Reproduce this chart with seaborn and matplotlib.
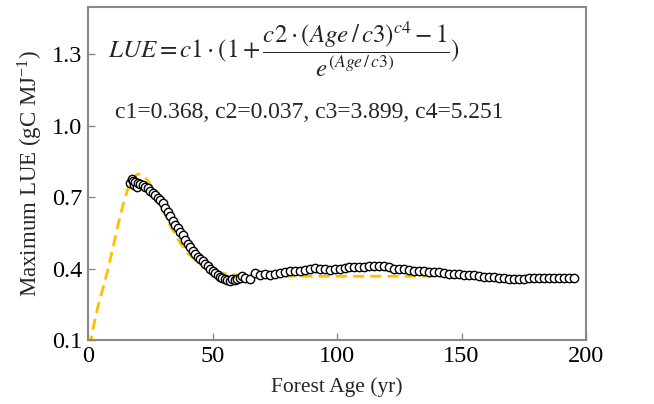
import matplotlib
matplotlib.use("Agg")
import matplotlib.pyplot as plt
import pandas as pd
import seaborn as sns

age = [17, 17.5, 18, 18.5, 19, 19.5, 20, 21, 22, 23, 24, 25, 26, 27, 28, 29, 30,
       31, 32, 33, 34, 35, 36, 37, 38, 39, 40, 41, 42, 43, 44, 45, 46, 47, 48, 49,
       50, 51, 52, 53, 54, 55, 56, 57, 58, 59, 60, 61, 62, 63, 65, 67, 69, 71, 73,
       75, 77, 79, 81, 83, 85, 87, 89, 91, 93, 95, 97, 99, 101, 103, 105, 107, 109,
       111, 113, 115, 117, 119, 121, 123, 125, 127, 129, 131, 133, 135, 137, 139,
       141, 143, 145, 147, 149, 151, 153, 155, 157, 159, 161, 163, 165, 167, 169,
       171, 173, 175, 177, 179, 181, 183, 185, 187, 189, 191, 193, 195]
lue = [0.760, 0.775, 0.770, 0.750, 0.765, 0.745, 0.760, 0.755, 0.750, 0.745, 0.738,
       0.728, 0.718, 0.708, 0.698, 0.688, 0.675, 0.655, 0.640, 0.620, 0.600, 0.585,
       0.570, 0.555, 0.540, 0.520, 0.505, 0.490, 0.475, 0.462, 0.450, 0.440, 0.430,
       0.420, 0.410, 0.400, 0.392, 0.383, 0.373, 0.366, 0.360, 0.357, 0.353, 0.350,
       0.356, 0.352, 0.355, 0.360, 0.368, 0.362, 0.356, 0.383, 0.372, 0.376, 0.374,
       0.378, 0.380, 0.385, 0.388, 0.392, 0.390, 0.395, 0.400, 0.402, 0.400, 0.398,
       0.396, 0.398, 0.400, 0.404, 0.406, 0.405, 0.407, 0.406, 0.410, 0.411, 0.409,
       0.410, 0.405, 0.400, 0.398, 0.397, 0.396, 0.392, 0.389, 0.388, 0.387, 0.385,
       0.384, 0.380, 0.378, 0.377, 0.378, 0.375, 0.374, 0.372, 0.370, 0.366, 0.365,
       0.364, 0.362, 0.360, 0.358, 0.357, 0.356, 0.358, 0.360, 0.361, 0.359, 0.360,
       0.361, 0.359, 0.360, 0.361, 0.360, 0.361]

# fitted curve, sampled from the dashed line
fit_age = [0, 1, 2, 4, 6, 8, 10, 12, 14, 16, 18, 20, 22, 24, 26, 28, 30, 33, 36,
           40, 45, 50, 55, 60, 70, 80, 100, 140, 196]
fit_lue = [0.0, 0.083, 0.148, 0.242, 0.317, 0.397, 0.487, 0.581, 0.667, 0.735,
           0.779, 0.798, 0.793, 0.770, 0.735, 0.692, 0.647, 0.581, 0.524, 0.465,
           0.418, 0.392, 0.379, 0.373, 0.369, 0.368, 0.368, 0.368, 0.368]

obs = pd.DataFrame({"age": age, "lue": lue})
fit = pd.DataFrame({"age": fit_age, "lue": fit_lue})

sns.set_theme(style="ticks")
plt.rcParams["font.family"] = ["Liberation Serif", "DejaVu Serif"]
plt.rcParams["mathtext.fontset"] = "stix"

fig = plt.figure(figsize=(6.54, 4.04), dpi=100)
ax = fig.add_axes([0.1346, 0.1584, 0.7615, 0.8246])

sns.lineplot(data=fit, x="age", y="lue", ax=ax, color="#FFC000", lw=2.0,
             dashes=False, zorder=2)
ax.lines[0].set_dashes([4, 2.2])
sns.scatterplot(data=obs, x="age", y="lue", ax=ax, s=36, facecolor="white",
                edgecolor="black", linewidth=1.0, zorder=3)

ax.set_xlim(0, 200)
ax.set_ylim(0.1, 1.5)
ax.set_xticks([0, 50, 100, 150, 200])
ax.set_yticks([0.1, 0.4, 0.7, 1.0, 1.3])
ax.set_yticklabels(["0.1", "0.4", "0.7", "1.0", "1.3"])
ax.tick_params(direction="in", length=5, width=1, color="#888888",
               labelsize=17.5, pad=4, labelcolor="black")
for sp in ax.spines.values():
    sp.set_color("#888888")
    sp.set_linewidth(1.5)

ax.set_xlabel("Forest Age (yr)", fontsize=15.5, labelpad=8)
ax.set_ylabel(r"Maximum LUE (gC MJ$^{\mathregular{-1}}$)", fontsize=16.5, labelpad=6)

ax.text(0.04, 0.872,
        r"$LUE = c1\cdot(1+\dfrac{c2\cdot(Age\,/\,c3)^{c4}-1}{e^{(Age\,/\,c3)}})$",
        transform=ax.transAxes, fontsize=18, va="center", ha="left")
ax.text(0.054, 0.682, "c1=0.368, c2=0.037, c3=3.899, c4=5.251",
        transform=ax.transAxes, fontsize=17, va="center", ha="left")

fig.savefig("out.png", dpi=100)
